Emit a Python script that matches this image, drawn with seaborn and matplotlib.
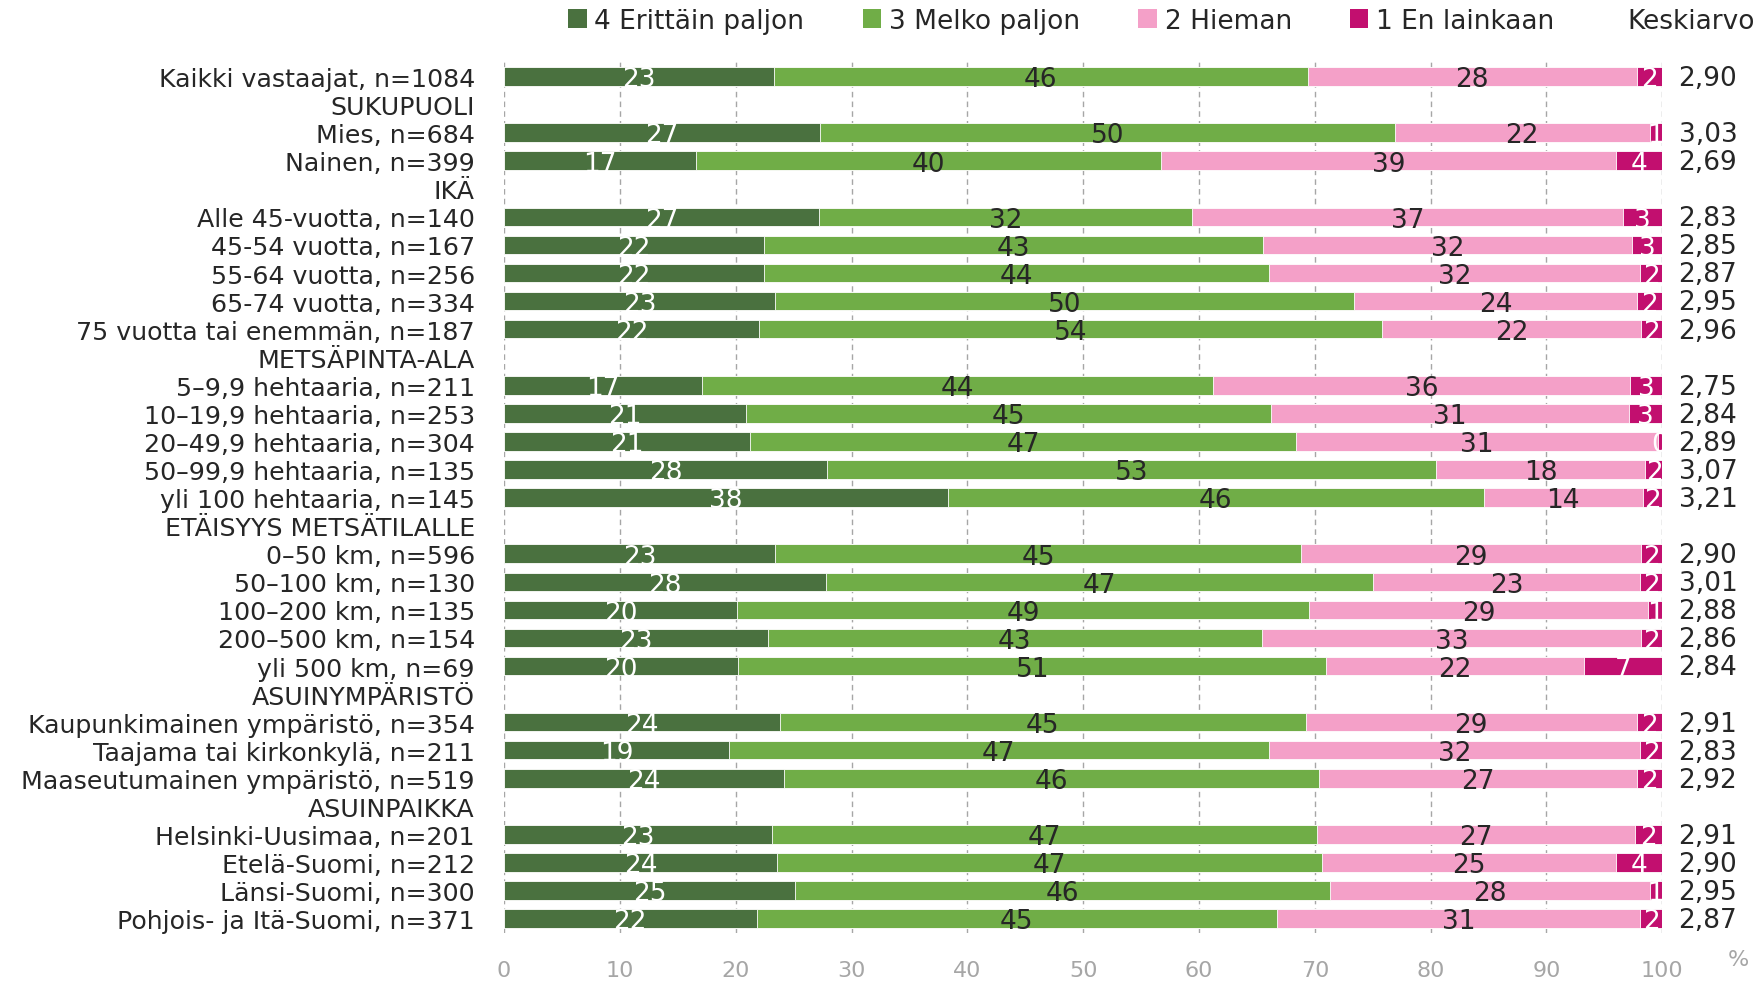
import numpy as np
import pandas as pd
import matplotlib
matplotlib.use('Agg')
import matplotlib.pyplot as plt
from matplotlib.patches import Patch
import seaborn as sns

# --- Data ---
nan = np.nan
rows = ['Kaikki vastaajat, n=1084', 'SUKUPUOLI', 'Mies, n=684', 'Nainen, n=399',
        'IKÄ', 'Alle 45-vuotta, n=140', '45-54 vuotta, n=167', '55-64 vuotta, n=256',
        '65-74 vuotta, n=334', '75 vuotta tai enemmän, n=187', 'METSÄPINTA-ALA',
        '5–9,9 hehtaaria, n=211', '10–19,9 hehtaaria, n=253', '20–49,9 hehtaaria, n=304',
        '50–99,9 hehtaaria, n=135', 'yli 100 hehtaaria, n=145', 'ETÄISYYS METSÄTILALLE',
        '0–50 km, n=596', '50–100 km, n=130', '100–200 km, n=135', '200–500 km, n=154',
        'yli 500 km, n=69', 'ASUINYMPÄRISTÖ', 'Kaupunkimainen ympäristö, n=354',
        'Taajama tai kirkonkylä, n=211', 'Maaseutumainen ympäristö, n=519', 'ASUINPAIKKA',
        'Helsinki-Uusimaa, n=201', 'Etelä-Suomi, n=212', 'Länsi-Suomi, n=300',
        'Pohjois- ja Itä-Suomi, n=371']

erittain = [23.3, nan, 27.3, 16.6, nan, 27.2, 22.4, 22.4, 23.4, 22.0, nan, 17.1, 20.9, 21.2,
            27.9, 38.3, nan, 23.4, 27.8, 20.1, 22.8, 20.2, nan, 23.8, 19.4, 24.2, nan,
            23.1, 23.6, 25.1, 21.8]
melko = [46.1, nan, 49.6, 40.1, nan, 32.2, 43.1, 43.6, 50.0, 53.8, nan, 44.1, 45.3, 47.2,
         52.6, 46.3, nan, 45.4, 47.2, 49.4, 42.6, 50.8, nan, 45.4, 46.6, 46.2, nan,
         47.1, 47.0, 46.2, 44.9]
hieman = [28.4, nan, 22.0, 39.3, nan, 37.2, 31.9, 32.1, 24.4, 22.4, nan, 36.0, 30.9, 31.2,
          18.0, 13.7, nan, 29.4, 23.1, 29.3, 32.8, 22.2, nan, 28.6, 32.1, 27.4, nan,
          27.4, 25.4, 27.6, 31.4]
ei = [2.2, nan, 1.1, 4.0, nan, 3.4, 2.6, 1.9, 2.2, 1.8, nan, 2.8, 2.9, 0.4,
      1.6, 1.7, nan, 1.8, 1.9, 1.2, 1.8, 6.8, nan, 2.2, 1.9, 2.2, nan,
      2.4, 4.0, 1.1, 1.9]
keskiarvo = ['2,90', '', '3,03', '2,69', '', '2,83', '2,85', '2,87', '2,95', '2,96', '',
             '2,75', '2,84', '2,89', '3,07', '3,21', '', '2,90', '3,01', '2,88', '2,86',
             '2,84', '', '2,91', '2,83', '2,92', '', '2,91', '2,90', '2,95', '2,87']

series = ['4 Erittäin paljon', '3 Melko paljon', '2 Hieman', '1 En lainkaan']
colors = ['#4a713f', '#70ad47', '#f4a0c8', '#c20f6f']
label_colors = ['white', '#262626', '#262626', 'white']

df = pd.DataFrame({'row': rows, series[0]: erittain, series[1]: melko,
                   series[2]: hieman, series[3]: ei})

# cumulative ends for stacking
cum = df[series].cumsum(axis=1)

sns.set_style('white')
plt.rcParams['font.family'] = ['Liberation Sans Narrow', 'DejaVu Sans Condensed', 'DejaVu Sans']
text_col = '#262626'

fig = plt.figure(figsize=(17.6, 9.87), dpi=100)
ax = fig.add_axes([0.2864, 0.054, 0.9445 - 0.2864, 0.9357 - 0.054])

# draw the longest (cumulative) bars first so the shorter ones sit on top
for i in range(3, -1, -1):
    sns.barplot(x=cum[series[i]], y=df['row'], order=rows, orient='h',
                color=colors[i], width=0.66, ax=ax, saturation=1,
                edgecolor='white', linewidth=0.6)

# segment labels
for r in range(len(rows)):
    start = 0
    for i, s in enumerate(series):
        val = df[s].iloc[r]
        if np.isnan(val):
            continue
        ax.text(start + val / 2, r + 0.1, '%.0f' % val, ha='center', va='center',
                fontsize=19, color=label_colors[i])
        start += val
    ax.text(101.4, r + 0.05, keskiarvo[r], ha='left', va='center', fontsize=19,
            color=text_col, clip_on=False)

ax.set_xlim(0, 100)
ax.set_ylim(len(rows) - 0.5, -0.5)
ax.set_xticks(range(0, 101, 10))
ax.set_xlabel('')
ax.set_ylabel('')
ax.grid(axis='x', color='#a6a6a6', linestyle=(0, (4, 3)), linewidth=1)
ax.grid(axis='y', visible=False)
ax.set_axisbelow(True)
for sp in ax.spines.values():
    sp.set_visible(False)
ax.tick_params(axis='y', length=0, pad=21, labelsize=18.2, labelcolor=text_col)
ax.tick_params(axis='x', length=0, pad=20, labelsize=16, labelcolor='#a6a6a6')

ax.text(1.066, -0.03, '%', transform=ax.transAxes, ha='center', va='center',
        fontsize=16, color='#a6a6a6')

handles = [Patch(facecolor=c, edgecolor='none') for c in colors]
fig.legend(handles, series, loc='center', bbox_to_anchor=(0.603, 0.978), ncol=4,
           frameon=False, fontsize=19, handlelength=0.7, handleheight=0.7,
           handletextpad=0.3, columnspacing=2.2, labelcolor=text_col)
fig.text(0.961, 0.978, 'Keskiarvo', ha='center', va='center', fontsize=19, color=text_col)

fig.savefig('out.png', dpi=100)
